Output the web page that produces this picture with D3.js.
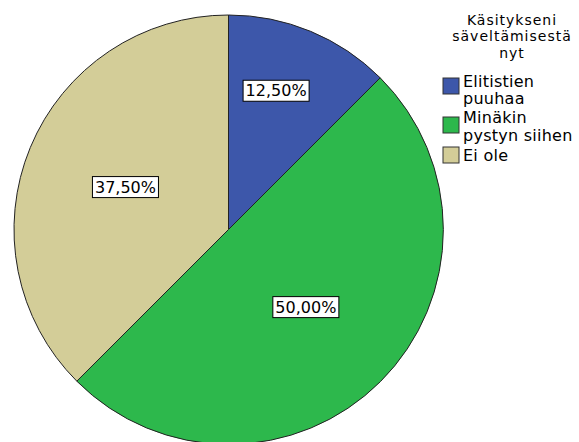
<!DOCTYPE html>
<html>
<head>
<meta charset="utf-8">
<script src="https://cdn.jsdelivr.net/npm/d3@7"></script>
<style>
  body { margin: 0; background: #fff; }
  svg text { font-family: "DejaVu Sans", sans-serif; fill: #000; }
</style>
</head>
<body>
<div id="chart"></div>
<script>
// Answer categories and their shares (%)
const categories = ["Elitistien puuhaa", "Minäkin pystyn siihen", "Ei ole"];
const legendLines = [["Elitistien", "puuhaa"], ["Minäkin", "pystyn siihen"], ["Ei ole"]];
const shares = [12.5, 50.0, 37.5];
const titleLines = ["Käsitykseni", "säveltämisestä", "nyt"];

const width = 579, height = 442;
const cx = 228.5, cy = 229.5, radius = 214.5;

const svg = d3.select("#chart")
    .append("svg")
    .attr("width", width)
    .attr("height", height);

const color = d3.scaleOrdinal()
    .domain(categories)
    .range(["#3d57aa", "#2db84c", "#d3cd98"]);

const pie = d3.pie().sort(null).value(d => d.value);
const arcs = pie(categories.map((c, i) => ({ name: c, value: shares[i] })));

const arc = d3.arc().innerRadius(0).outerRadius(radius);

const g = svg.append("g").attr("transform", `translate(${cx},${cy})`);

g.selectAll("path.slice")
    .data(arcs)
    .join("path")
    .attr("class", "slice")
    .attr("d", arc)
    .attr("fill", d => color(d.data.name))
    .attr("stroke", "#222")
    .attr("stroke-width", 1);

// Labels sit part way out along each slice
const labelRadius = [0.685, 0.51, 0.52];
const labelAngle = [0.42, 0.5, 0.5];
const fmt = v => v.toFixed(2).replace(".", ",") + "%";

const labels = g.selectAll("g.label")
    .data(arcs)
    .join("g")
    .attr("class", "label")
    .attr("transform", (d, i) => {
        const a = d.startAngle + (d.endAngle - d.startAngle) * labelAngle[i];
        const r = radius * labelRadius[i];
        return `translate(${r * Math.sin(a)},${-r * Math.cos(a)})`;
    });

labels.append("text")
    .attr("text-anchor", "middle")
    .attr("dy", "0.36em")
    .style("font-size", "16px")
    .text(d => fmt(d.data.value));

labels.each(function() {
    const grp = d3.select(this);
    const bb = grp.select("text").node().getBBox();
    grp.insert("rect", "text")
        .attr("x", bb.x - 2.5)
        .attr("y", bb.y - 1)
        .attr("width", bb.width + 5)
        .attr("height", bb.height + 2)
        .attr("fill", "#fff")
        .attr("stroke", "#000")
        .attr("stroke-width", 1);
});

// Legend title, centred above the swatches
const legend = svg.append("g");

legend.append("text")
    .attr("class", "title")
    .attr("text-anchor", "middle")
    .style("font-size", "14px")
    .style("letter-spacing", "1px")
    .selectAll("tspan")
    .data(titleLines)
    .join("tspan")
    .attr("x", 512)
    .attr("y", (d, i) => 25 + i * 16.4)
    .text(d => d);

// Legend entries: swatch tops and first-line baselines
const swatchTop = [78, 117, 147];
const textBase = [86.7, 123.3, 160.7];

const items = legend.selectAll("g.item")
    .data(categories)
    .join("g")
    .attr("class", "item");

items.append("rect")
    .attr("x", 443)
    .attr("y", (d, i) => swatchTop[i])
    .attr("width", 16)
    .attr("height", 16)
    .attr("fill", d => color(d))
    .attr("stroke", "#333")
    .attr("stroke-width", 1);

items.append("text")
    .style("font-size", "16px")
    .style("letter-spacing", "0.25px")
    .each(function(d, i) {
        d3.select(this).selectAll("tspan")
            .data(legendLines[i])
            .join("tspan")
            .attr("x", 463)
            .attr("y", (t, j) => textBase[i] + j * 17.2)
            .text(t => t);
    });
</script>
</body>
</html>
